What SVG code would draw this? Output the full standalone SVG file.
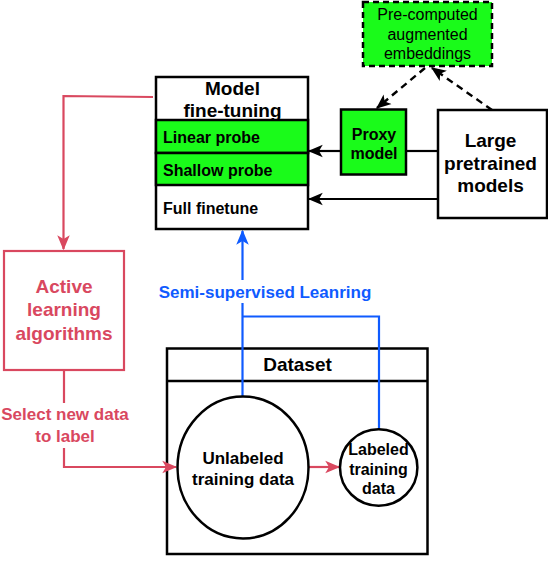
<svg xmlns="http://www.w3.org/2000/svg" width="548" height="584" viewBox="0 0 548 584">
<style>
text{font-family:"Liberation Sans",Arial,sans-serif;text-anchor:middle}
.b{font-weight:bold}
.s{text-anchor:start}
.box{fill:#fff;stroke:#000;stroke-width:2.5}
.g{fill:#1AFB1A;stroke:#000;stroke-width:2.5}
.blk{fill:none;stroke:#000;stroke-width:2.2}
.dash{fill:none;stroke:#000;stroke-width:2.4;stroke-dasharray:7 5}
.red{fill:none;stroke:#D9485F;stroke-width:2.2}
.blue{fill:none;stroke:#0F5BFF;stroke-width:2.2}
.rt{fill:#D9485F}
.bt{fill:#0F5BFF}
</style>
<defs>
<marker id="ak" markerUnits="userSpaceOnUse" markerWidth="15" markerHeight="15" viewBox="0 0 12 12" refX="11" refY="6" orient="auto"><path d="M0,1 L12,6 L0,11 L3,6 Z" fill="#000"/></marker>
<marker id="ar" markerUnits="userSpaceOnUse" markerWidth="15" markerHeight="15" viewBox="0 0 12 12" refX="11" refY="6" orient="auto"><path d="M0,1 L12,6 L0,11 L3,6 Z" fill="#D9485F"/></marker>
<marker id="ab" markerUnits="userSpaceOnUse" markerWidth="15" markerHeight="15" viewBox="0 0 12 12" refX="11" refY="6" orient="auto"><path d="M0,1 L12,6 L0,11 L3,6 Z" fill="#0F5BFF"/></marker>
</defs>

<g id="dataset">
<rect x="167" y="348.5" width="260.5" height="205.5" fill="#fff" stroke="#000" stroke-width="2.5"/>
<line x1="167" y1="381" x2="427.5" y2="381" stroke="#000" stroke-width="2.5"/>
<text class="b" x="297.5" y="371" font-size="19">Dataset</text>
</g>

<g id="connectors">
<path class="blk" d="M341,151 L309,151" marker-end="url(#ak)"/>
<path class="blk" d="M438,151 L406,151"/>
<path class="blk" d="M438,199 L309,199" marker-end="url(#ak)"/>
<path class="dash" d="M425,68 L377,108" marker-end="url(#ak)"/>
<path class="dash" d="M492,110 L432,68" marker-end="url(#ak)"/>
<path class="red" d="M153,97 L63.5,96 L63.5,249" marker-end="url(#ar)"/>
<path class="red" d="M64,370 L64,403 M64,448 L64,467 L176,467" marker-end="url(#ar)"/>
<path class="red" d="M309,467 L339,467" marker-end="url(#ar)"/>
<path class="blue" d="M242.5,397 L242.5,303 M242.5,280 L242.5,231" marker-end="url(#ab)"/>
<path class="blue" d="M242.5,316.5 L379,316.5 L379,429"/>
<text class="b bt" x="265" y="298" font-size="17">Semi-supervised Leanring</text>
<text class="b rt" x="65" y="420" font-size="17">Select new data</text>
<text class="b rt" x="65" y="442" font-size="17">to label</text>
</g>

<g id="precomputed">
<rect x="363" y="2" width="129" height="64" fill="#1AFB1A" stroke="#000" stroke-width="2.5" stroke-dasharray="6 4"/>
<text x="427.5" y="20" font-size="16">Pre-computed</text>
<text x="427.5" y="39.5" font-size="16">augmented</text>
<text x="427.5" y="58.5" font-size="16">embeddings</text>
</g>

<g id="model-finetuning">
<rect class="box" x="156" y="77" width="152" height="152"/>
<rect class="g" x="156" y="120" width="152" height="33"/>
<rect class="g" x="156" y="153" width="152" height="32"/>
<text class="b" x="232.5" y="95" font-size="19">Model</text>
<text class="b" x="232.5" y="117" font-size="19">fine-tuning</text>
<text class="b s" x="163" y="143" font-size="16">Linear probe</text>
<text class="b s" x="163" y="176" font-size="16">Shallow probe</text>
<text class="b s" x="163" y="213.5" font-size="16">Full finetune</text>
</g>

<g id="proxy-model">
<rect class="g" x="341" y="109.5" width="65" height="65"/>
<text class="b" x="374" y="139.5" font-size="16">Proxy</text>
<text class="b" x="374" y="159" font-size="16">model</text>
</g>

<g id="large-models">
<rect class="box" x="438" y="110" width="109" height="108"/>
<text class="b" x="490.5" y="147" font-size="19">Large</text>
<text class="b" x="490.5" y="169.5" font-size="19">pretrained</text>
<text class="b" x="490.5" y="192" font-size="19">models</text>
</g>

<g id="active-learning">
<rect x="4" y="251" width="120" height="119" fill="#fff" stroke="#D9485F" stroke-width="2.2"/>
<text class="b rt" x="64" y="293" font-size="19">Active</text>
<text class="b rt" x="64" y="316" font-size="19">learning</text>
<text class="b rt" x="64" y="339.5" font-size="19">algorithms</text>
</g>

<g id="unlabeled">
<ellipse class="box" cx="243" cy="467.5" rx="65.5" ry="71"/>
<text class="b" x="243" y="463.5" font-size="17">Unlabeled</text>
<text class="b" x="243" y="484.5" font-size="17">training data</text>
</g>

<g id="labeled">
<ellipse class="box" cx="378.7" cy="467.5" rx="38.7" ry="38.2"/>
<text class="b" x="378.5" y="455" font-size="16">Labeled</text>
<text class="b" x="378.5" y="474.5" font-size="16">training</text>
<text class="b" x="378.5" y="493.5" font-size="16">data</text>
</g>
</svg>
